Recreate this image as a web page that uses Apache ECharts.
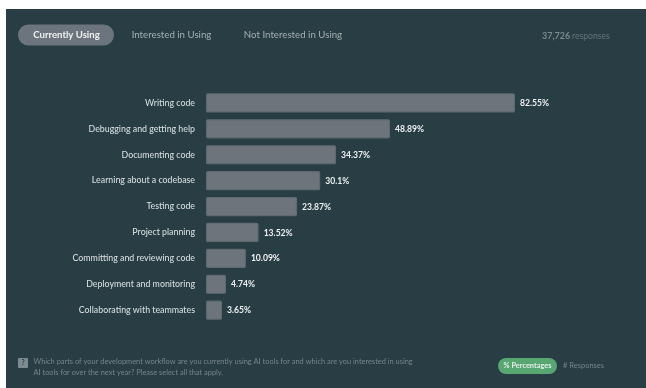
<!DOCTYPE html>
<html><head><meta charset="utf-8">
<style>html,body{margin:0;padding:0;background:#fff}#c{width:646px;height:388px}</style>
<script src="https://cdn.jsdelivr.net/npm/echarts@6/dist/echarts.min.js"></script>
</head><body><div id="c"></div>
<script>
const categories = ["Writing code","Debugging and getting help","Documenting code","Learning about a codebase","Testing code","Project planning","Committing and reviewing code","Deployment and monitoring","Collaborating with teammates"];
const percentages = [82.55,48.89,34.37,30.1,23.87,13.52,10.09,4.74,3.65];
const tabs = ["Currently Using","Interested in Using","Not Interested in Using"];
const F = 'Lato,"Noto Sans",sans-serif';
const axisMin = -0.65;
const chart = echarts.init(document.getElementById('c'),null,{renderer:'canvas'});
chart.setOption({
  animation:false,
  backgroundColor:'#ffffff',
  grid:{left:206,top:90,width:371.4,height:233.1,containLabel:false},
  xAxis:{type:'value',min:axisMin,max:99.35,show:false},
  yAxis:{type:'category',inverse:true,data:categories,axisLine:{show:false},axisTick:{show:false},
    axisLabel:{color:'#d8dee0',fontFamily:F,fontSize:8.8,fontWeight:500,margin:11}},
  series:[{type:'custom',z:5,clip:false,
    data:percentages.map((v,i)=>[v,i]),
    encode:{x:0,y:1},
    renderItem:function(params,api){
      const v=api.value(0), i=api.value(1);
      const start=api.coord([axisMin,i]), end=api.coord([v,i]);
      const h=18;
      return {type:'group',children:[
        {type:'rect',shape:{x:start[0]+0.6,y:start[1]-h/2,width:end[0]-start[0]-1.2,height:h,r:1},
         style:{fill:'#6e747c',stroke:'#5f6a70',lineWidth:1.2}},
        {type:'text',style:{x:end[0]+5,y:end[1]+0.3,text:v+'%',fill:'#eef1f2',font:'bold 8.6px '+F,textVerticalAlign:'middle'}}
      ]};
    }}],
  graphic:[
    {type:'rect',z:0,shape:{x:6,y:9,width:640,height:379},style:{fill:'#283d44'}},
    {type:'rect',z:1,shape:{x:18,y:24.5,width:96,height:21,r:10.5},style:{fill:'#6c757d'}},
    {type:'text',z:2,style:{x:66.5,y:35,text:tabs[0],fill:'#eef1f2',font:'bold 9.6px '+F,textAlign:'center',textVerticalAlign:'middle'}},
    {type:'text',z:2,style:{x:171.5,y:35,text:tabs[1],fill:'#a6b0b4',font:'9.7px '+F,textAlign:'center',textVerticalAlign:'middle'}},
    {type:'text',z:2,style:{x:293,y:35,text:tabs[2],fill:'#a6b0b4',font:'9.7px '+F,textAlign:'center',textVerticalAlign:'middle'}},
    {type:'text',z:2,style:{x:542,y:36,text:'37,726',fill:'#7d8a8f',font:'bold 9px '+F,textVerticalAlign:'middle'}},
    {type:'text',z:2,style:{x:572,y:36,text:'responses',fill:'#64747a',font:'8.6px '+F,textVerticalAlign:'middle'}},
    {type:'rect',z:1,shape:{x:18,y:358,width:10,height:10,r:1},style:{fill:'#7d8a90'}},
    {type:'text',z:2,style:{x:23,y:363,text:'?',fill:'#283d44',font:'bold 7px '+F,textAlign:'center',textVerticalAlign:'middle'}},
    {type:'text',z:2,style:{x:33.5,y:362,text:'Which parts of your development workflow are you currently using AI tools for and which are you interested in using',fill:'#75858a',font:'7.43px '+F,textVerticalAlign:'middle'}},
    {type:'text',z:2,style:{x:33.5,y:372.5,text:'AI tools for over the next year? Please select all that apply.',fill:'#75858a',font:'7.43px '+F,textVerticalAlign:'middle'}},
    {type:'rect',z:1,shape:{x:498,y:358,width:59,height:16,r:8},style:{fill:'#58a672'}},
    {type:'text',z:2,style:{x:527.5,y:366,text:'% Percentages',fill:'#e4efe8',font:'bold 7.4px '+F,textAlign:'center',textVerticalAlign:'middle'}},
    {type:'text',z:2,style:{x:563,y:366,text:'# Responses',fill:'#75858a',font:'7.5px '+F,textVerticalAlign:'middle'}}
  ]
});
</script></body></html>
